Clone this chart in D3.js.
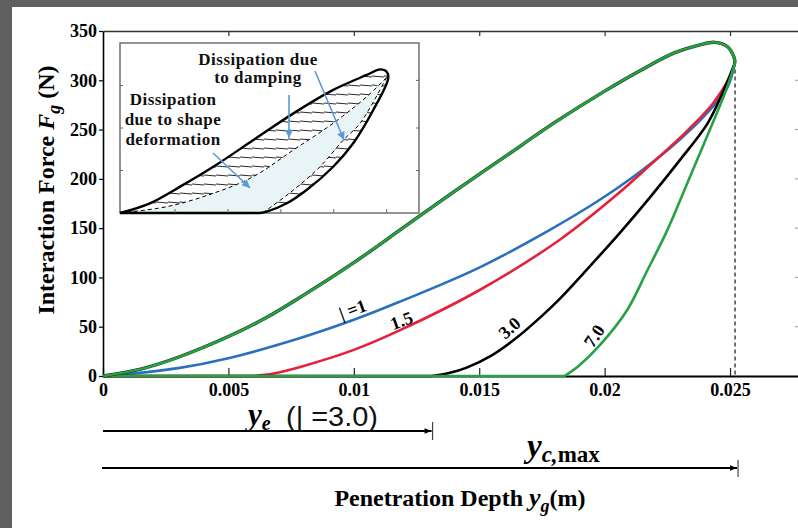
<!DOCTYPE html>
<html>
<head>
<meta charset="utf-8">
<script src="https://cdn.jsdelivr.net/npm/d3@7"></script>
<style>
html, body { margin: 0; padding: 0; background: #fff; }
svg { display: block; font-family: "Liberation Serif", "Times New Roman", serif; }
</style>
</head>
<body>
<svg></svg>
<script>
// data

var xTicks = [0, 0.005, 0.01, 0.015, 0.02, 0.025]
var xTickLabels = ['0', '0.005', '0.01', '0.015', '0.02', '0.025']
var yTicks = [0, 50, 100, 150, 200, 250, 300, 350]

// loading branch (shared by all curves), goes round the tip
var loadX = [0, 0.0015, 0.003, 0.005, 0.0065, 0.008, 0.01, 0.012, 0.014, 0.016, 0.018, 0.02, 0.0215, 0.0228, 0.0238, 0.0244, 0.0249, 0.02515, 0.0252]
var loadF = [0, 7, 19, 40, 59, 82, 115, 151, 187, 222, 257, 289, 311, 328, 336, 338.5, 334, 324, 318]

// unloading branches (first point is the origin, reached along the axis)
var names = ['| =1', '1.5', '3.0', '7.0']
var unloadX = [
  [0, 0.0001, 0.003, 0.005, 0.0078, 0.01, 0.0118, 0.015, 0.0178, 0.0197, 0.0214, 0.023, 0.0242, 0.0249, 0.0252],
  [0, 0.006, 0.0068, 0.0079, 0.01, 0.0118, 0.015, 0.0182, 0.0204, 0.0219, 0.0233, 0.0243, 0.025, 0.0252],
  [0, 0.0131, 0.0138, 0.0145, 0.0155, 0.0165, 0.0175, 0.0182, 0.0194, 0.0206, 0.0218, 0.023, 0.0241, 0.0247, 0.0252],
  [0, 0.0184, 0.019, 0.0198, 0.0209, 0.0217, 0.0225, 0.0234, 0.0242, 0.0249, 0.0252]
]
var unloadF = [
  [0, 0, 8, 18, 38, 57, 75, 110, 148, 177, 207, 240, 270, 293, 318],
  [0, 0, 2.5, 9.5, 26.5, 46, 87, 138, 182, 216, 249, 276, 304, 318],
  [0, 0, 3, 8.5, 21, 39, 61, 78, 111, 145, 181, 219, 256, 287, 318],
  [0, 0, 11, 31, 67, 107, 148, 202, 250, 294, 318]
]
var labelAt = [0.00995, 0.0119, 0.0162, 0.01958]

var yeDepth = 0.0131
var ycMax = 0.0252

// inset sketch, in inset units 0..100
var insetUpper = [[0, 0], [10, 5.7], [20.1, 15.5], [31.2, 27.2], [44.6, 42.9], [58, 58.6], [71.3, 72.4], [82.5, 81.2], [87, 84.5], [89.2, 83.1], [89.7, 79.2]]
var insetLower = [[89.7, 79.2], [84.7, 60.6], [78, 41], [71.3, 27.2], [62.4, 13.5], [55.8, 5.7], [49.1, 0.8], [46.8, 0], [0, 0]]
var insetElastic = [[0, 0], [15.6, 3.7], [31.2, 11.6], [44.6, 21.4], [58, 37.1], [71.3, 52.8], [82.5, 68.4], [89.2, 79.8]]
var insetLowerDash = [[89.2, 79.8], [80.3, 52.8], [74.7, 42.9], [66.9, 27.2], [58, 13.5], [49.1, 1.8], [47.5, 0]]

// -----------------

var w = 798
var h = 528
var colors = ['#2b70bd', '#e5203b', '#000000', '#26a244']

var svg = d3.select('svg').attr('width', w).attr('height', h)

var defs = svg.append('defs')
defs.append('pattern')
    .attr('id', 'hatch')
    .attr('patternUnits', 'userSpaceOnUse')
    .attr('width', 12).attr('height', 9)
  .append('line')
    .attr('x1', 0).attr('y1', 4).attr('x2', 12).attr('y2', 5)
    .attr('stroke', '#111').attr('stroke-width', 0.9)

defs.append('marker')
    .attr('id', 'arrowBlack')
    .attr('viewBox', '0 0 10 10')
    .attr('refX', 10).attr('refY', 5)
    .attr('markerWidth', 9).attr('markerHeight', 7)
    .attr('markerUnits', 'userSpaceOnUse')
    .attr('orient', 'auto')
  .append('path').attr('d', 'M0,1 L10,5 L0,9 Z').attr('fill', '#000')

defs.append('marker')
    .attr('id', 'arrowBlue')
    .attr('viewBox', '0 0 10 10')
    .attr('refX', 10).attr('refY', 5)
    .attr('markerWidth', 9).attr('markerHeight', 8)
    .attr('markerUnits', 'userSpaceOnUse')
    .attr('orient', 'auto')
  .append('path').attr('d', 'M0,0 L10,5 L0,10 Z').attr('fill', '#5b9bd5')

// grey frame of the screenshot
svg.append('rect').attr('width', w).attr('height', 7).attr('fill', '#606060')
svg.append('rect').attr('width', 12).attr('height', h).attr('fill', '#606060')

var x = d3.scaleLinear().domain([0, 0.02771]).range([103, 798])
var y = d3.scaleLinear().domain([0, 350]).range([376, 31])

// top frame with ticks
var topAxis = svg.append('g').attr('transform', 'translate(0,' + y(350) + ')')
  .call(d3.axisTop(x).tickValues(xTicks.slice(1)).tickSizeInner(-5).tickSizeOuter(0).tickFormat(''))
topAxis.select('.domain').attr('stroke', '#333').attr('stroke-width', 1.6)
topAxis.selectAll('.tick line').attr('stroke', '#333').attr('stroke-width', 1.2)

// right frame ticks (frame itself is cut off)
svg.append('g').selectAll('line')
  .data(yTicks.slice(1, 7))
  .enter().append('line')
    .attr('x1', 795).attr('x2', 798)
    .attr('y1', function (d) { return y(d) }).attr('y2', function (d) { return y(d) })
    .attr('stroke', '#999').attr('stroke-width', 1)

// dashed line at y_c,max
svg.append('line')
  .attr('x1', x(ycMax)).attr('x2', x(ycMax))
  .attr('y1', y(318)).attr('y2', y(0))
  .attr('stroke', '#444').attr('stroke-width', 1.5)
  .attr('stroke-dasharray', '4,3')

// ---- inset ----
var ix = d3.scaleLinear().domain([0, 100]).range([120, 419])
var iy = d3.scaleLinear().domain([0, 100]).range([213, 43])
var ig = svg.append('g')

ig.append('rect')
  .attr('x', 120).attr('y', 43).attr('width', 299).attr('height', 170)
  .attr('fill', '#fff').attr('stroke', '#666').attr('stroke-width', 1.4)

var iline = d3.line()
  .x(function (d) { return ix(d[0]) })
  .y(function (d) { return iy(d[1]) })
  .curve(d3.curveCatmullRom)

// light blue: between elastic curve and the lower dashed branch
ig.append('path')
  .attr('d', iline(insetElastic.concat(insetLowerDash).concat([[0, 0]])) + 'Z')
  .attr('fill', '#e9f4f6')

// hatching: damping part
ig.append('path')
  .attr('d', iline(insetUpper.concat(insetElastic.slice().reverse())) + 'Z')
  .attr('fill', 'url(#hatch)')
ig.append('path')
  .attr('d', iline(insetLowerDash.concat(insetLower.slice(0, 8).reverse())) + 'Z')
  .attr('fill', 'url(#hatch)')

ig.append('path').attr('d', iline(insetElastic))
  .attr('fill', 'none').attr('stroke', '#000').attr('stroke-width', 1).attr('stroke-dasharray', '4,3')
ig.append('path').attr('d', iline(insetLowerDash))
  .attr('fill', 'none').attr('stroke', '#000').attr('stroke-width', 1).attr('stroke-dasharray', '4,3')
ig.append('path').attr('d', iline(insetUpper.concat(insetLower.slice(1, 8))))
  .attr('fill', 'none').attr('stroke', '#000').attr('stroke-width', 2.4)
ig.append('line')
  .attr('x1', ix(46.8)).attr('x2', ix(0)).attr('y1', iy(0)).attr('y2', iy(0))
  .attr('stroke', '#000').attr('stroke-width', 2.4)

// inset ticks
ig.selectAll('.ixt').data([18.4, 36.1, 53.8, 71.5, 89.2]).enter().append('line')
  .attr('x1', function (d) { return ix(d) }).attr('x2', function (d) { return ix(d) })
  .attr('y1', 213).attr('y2', 209).attr('stroke', '#666')
ig.selectAll('.iyl').data([25, 50, 75]).enter().append('line')
  .attr('x1', 120).attr('x2', 123)
  .attr('y1', function (d) { return iy(d) }).attr('y2', function (d) { return iy(d) }).attr('stroke', '#666')
ig.selectAll('.iyr').data([25, 50, 78]).enter().append('line')
  .attr('x1', 416).attr('x2', 419)
  .attr('y1', function (d) { return iy(d) }).attr('y2', function (d) { return iy(d) }).attr('stroke', '#666')

var itext = ig.append('g')
  .style('font-size', '17px').style('font-weight', 'bold').attr('fill', '#111')
  .style('letter-spacing', '0.5px')
itext.append('text').attr('x', 258).attr('y', 65).attr('text-anchor', 'middle').text('Dissipation due')
itext.append('text').attr('x', 258).attr('y', 83).attr('text-anchor', 'middle').text('to damping')
itext.append('text').attr('x', 173).attr('y', 105).attr('text-anchor', 'middle').text('Dissipation')
itext.append('text').attr('x', 173).attr('y', 125).attr('text-anchor', 'middle').text('due to shape')
itext.append('text').attr('x', 173).attr('y', 145).attr('text-anchor', 'middle').text('deformation')

var arrows = [[289, 95, 289, 138], [315, 71, 344, 140], [213, 153, 250, 188]]
ig.selectAll('.barrow').data(arrows).enter().append('line')
  .attr('x1', function (d) { return d[0] }).attr('y1', function (d) { return d[1] })
  .attr('x2', function (d) { return d[2] }).attr('y2', function (d) { return d[3] })
  .attr('stroke', '#5b9bd5').attr('stroke-width', 1.6)
  .attr('marker-end', 'url(#arrowBlue)')

// ---- axes ----
var xAxis = svg.append('g').attr('transform', 'translate(0,' + y(0) + ')')
  .call(d3.axisBottom(x).tickValues(xTicks).tickSizeInner(-8).tickSizeOuter(0).tickPadding(7)
    .tickFormat(function (d, i) { return xTickLabels[i] }))
xAxis.select('.domain').attr('stroke', '#000').attr('stroke-width', 2)
xAxis.selectAll('.tick line').attr('stroke', '#222').attr('stroke-width', 1.2)
xAxis.selectAll('text').attr('fill', '#000')
  .style('font-family', '"Liberation Serif", serif').style('font-size', '18px').style('font-weight', 'bold')

var yAxis = svg.append('g').attr('transform', 'translate(' + x(0) + ',0)')
  .call(d3.axisLeft(y).tickValues(yTicks).tickSizeInner(4).tickSizeOuter(0).tickPadding(2))
yAxis.select('.domain').attr('stroke', '#000').attr('stroke-width', 1.6)
yAxis.selectAll('.tick line').attr('stroke', '#000').attr('stroke-width', 1.2)
yAxis.selectAll('text').attr('fill', '#000')
  .style('font-family', '"Liberation Serif", serif').style('font-size', '18px').style('font-weight', 'bold')

// ---- curves ----
var lineSmooth = d3.line()
  .x(function (d) { return x(d[0]) })
  .y(function (d) { return y(d[1]) })
  .curve(d3.curveCatmullRom.alpha(0.5))

var loadPts = loadX.map(function (v, i) { return [v, loadF[i]] })
var curves = svg.append('g')

unloadX.forEach(function (xs, k) {
  var pts = xs.map(function (v, i) { return [v, unloadF[k][i]] })
  // straight run along the axis, smooth curve from where the force starts
  var d = 'M' + x(pts[0][0]) + ',' + y(pts[0][1]) + 'L' + lineSmooth(pts.slice(1)).slice(1)
  curves.append('path')
    .attr('d', d)
    .attr('fill', 'none')
    .attr('stroke', colors[k])
    .attr('stroke-width', 2.6)
})

// loading branch: dark under, green on top
curves.append('path').attr('d', lineSmooth(loadPts))
  .attr('fill', 'none').attr('stroke', '#1a3a1a').attr('stroke-width', 3.4)
curves.append('path').attr('d', lineSmooth(loadPts))
  .attr('fill', 'none').attr('stroke', colors[3]).attr('stroke-width', 2.4)

// curve labels
var labelDy = [-11, -9, -15, -15]
var labelRot = [-20, -20, -42, -56]
names.forEach(function (n, k) {
  var f = d3.scaleLinear().domain(unloadX[k]).range(unloadF[k])(labelAt[k])
  svg.append('text')
    .attr('transform', 'translate(' + x(labelAt[k]) + ',' + (y(f) + labelDy[k]) + ') rotate(' + labelRot[k] + ')')
    .attr('text-anchor', 'middle')
    .attr('dy', '0.35em')
    .style('font-size', '18px').style('font-weight', 'bold')
    .text(n)
})

// ---- bottom annotations ----
svg.append('line')
  .attr('x1', x(0)).attr('x2', x(yeDepth)).attr('y1', 431).attr('y2', 431)
  .attr('stroke', '#000').attr('stroke-width', 2)
  .attr('marker-end', 'url(#arrowBlack)')
svg.append('line')
  .attr('x1', x(yeDepth) + 1).attr('x2', x(yeDepth) + 1).attr('y1', 422).attr('y2', 440)
  .attr('stroke', '#444').attr('stroke-width', 1.2)

svg.append('line')
  .attr('x1', x(0) - 1).attr('x2', x(ycMax) + 2).attr('y1', 468).attr('y2', 468)
  .attr('stroke', '#000').attr('stroke-width', 2)
  .attr('marker-end', 'url(#arrowBlack)')
svg.append('line')
  .attr('x1', x(ycMax) + 3).attr('x2', x(ycMax) + 3).attr('y1', 460).attr('y2', 477)
  .attr('stroke', '#444').attr('stroke-width', 1.2)

var ye = svg.append('text').attr('x', 248).attr('y', 425)
ye.append('tspan').style('font-size', '31px').style('font-weight', 'bold').style('font-style', 'italic').text('y')
ye.append('tspan').attr('dy', 5).style('font-size', '20px').style('font-weight', 'bold').style('font-style', 'italic').text('e')
svg.append('text').attr('x', 286).attr('y', 426)
  .attr('textLength', 92).attr('lengthAdjust', 'spacingAndGlyphs')
  .style('font-family', '"Liberation Sans", sans-serif')
  .style('font-size', '27px').style('fill', '#111').text('(| =3.0)')

var yc = svg.append('text').attr('x', 527).attr('y', 457)
yc.append('tspan').style('font-size', '33px').style('font-weight', 'bold').style('font-style', 'italic').text('y')
yc.append('tspan').attr('dy', 5).style('font-size', '23px').style('font-weight', 'bold').style('font-style', 'italic').text('c,')
yc.append('tspan').style('font-size', '23px').style('font-weight', 'bold').text('max')

var xt = svg.append('text').attr('x', 460).attr('y', 506).attr('text-anchor', 'middle')
  .style('font-size', '24px').style('font-weight', 'bold')
xt.append('tspan').text('Penetration Depth ')
xt.append('tspan').style('font-style', 'italic').style('font-size', '26px').text('y')
xt.append('tspan').attr('dy', 6).style('font-style', 'italic').style('font-size', '18px').text('g')
xt.append('tspan').attr('dy', -6).text('(m)')

var yt = svg.append('text').attr('transform', 'translate(54,190) rotate(-90)').attr('text-anchor', 'middle')
  .style('font-size', '24px').style('font-weight', 'bold')
yt.append('tspan').text('Interaction Force ')
yt.append('tspan').style('font-style', 'italic').text('F')
yt.append('tspan').attr('dy', 6).style('font-style', 'italic').style('font-size', '18px').text('g')
yt.append('tspan').attr('dy', -6).text('  (N)')
</script>
</body>
</html>
